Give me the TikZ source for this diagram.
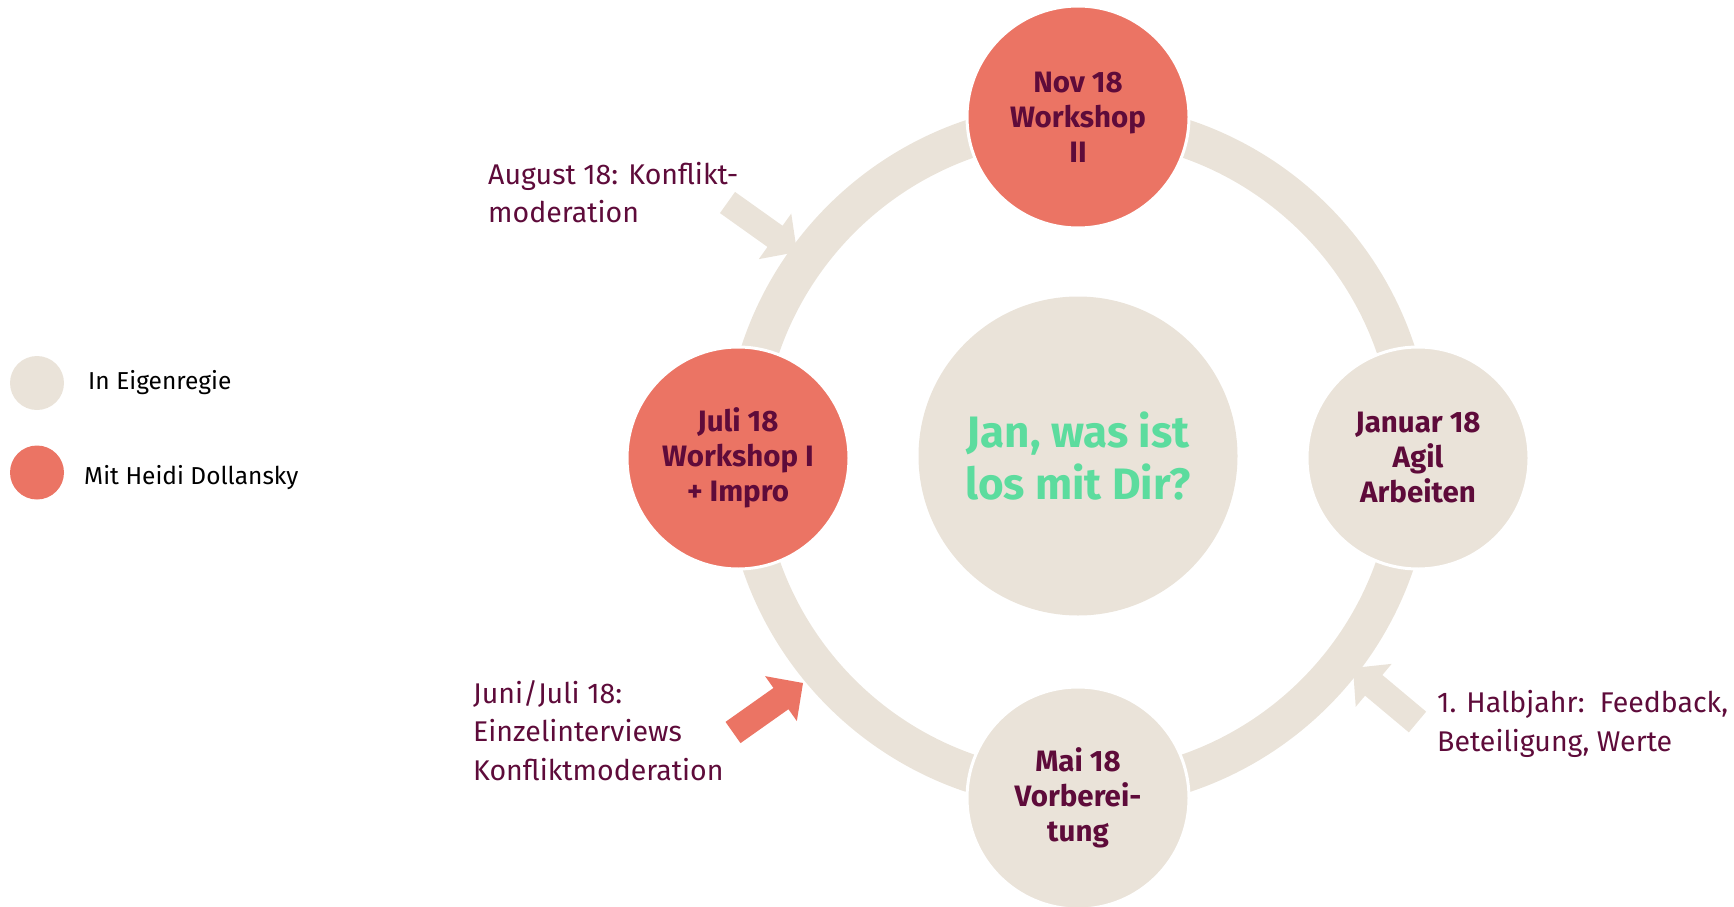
\documentclass[tikz,border=0pt]{standalone}
\usepackage{fontspec}
\setmainfont{Fira Sans}
\usetikzlibrary{calc}
\definecolor{beige}{HTML}{EAE3D9}
\definecolor{coral}{HTML}{EB7464}
\definecolor{plum}{HTML}{5E0B3A}
\definecolor{mint}{HTML}{5CDC9E}
\tikzset{
  stepnode/.style={circle, minimum size=222pt, inner sep=0pt, draw=white, line width=3pt,
    align=center, text=plum, font=\fontsize{29.5}{35}\selectfont\bfseries},
  ownnode/.style={stepnode, fill=beige},
  hdnode/.style={stepnode, fill=coral},
  note/.style={anchor=base west, align=left, text=plum, inner sep=0pt,
    font=\fontsize{28.5}{38.5}\selectfont},
  legendtxt/.style={anchor=base west, inner sep=0pt, text=black, font=\fontsize{24.5}{30}\selectfont},
  legenddot/.style={circle, minimum size=54pt, inner sep=0pt},
}
\newcommand\blockarr[5]{%
  \path ($(#2)!27pt!(#1)$) coordinate (hb);
  \fill[#3] ($(#1)!#4!90:(#2)$) -- ($(hb)!#4!90:(#2)$) -- ($(hb)!#5!90:(#2)$) -- (#2)
    -- ($(hb)!#5!-90:(#2)$) -- ($(hb)!#4!-90:(#2)$) -- ($(#1)!#4!-90:(#2)$) -- cycle;
}
\begin{document}
\begin{tikzpicture}[x=1pt,y=-1pt]
\useasboundingbox (0,0) rectangle (1734,907);
\coordinate (C) at (1078,456);
\draw[beige, line width=38pt] (C) circle[radius=335pt];
% arrows
\coordinate (a1t) at (727.5,202.5); \coordinate (a1p) at (797,252);
\coordinate (a2t) at (1417.5,722); \coordinate (a2p) at (1353,668);
\coordinate (a3t) at (733,732.5); \coordinate (a3p) at (803,683);
\blockarr{a1t}{a1p}{beige}{13pt}{28pt}
\blockarr{a2t}{a2p}{beige}{13.5pt}{28pt}
\blockarr{a3t}{a3p}{coral}{13pt}{27.5pt}
% nodes
\node[stepnode, fill=beige, draw=none, minimum size=319pt, text=mint,
  font=\fontsize{44}{52}\selectfont\bfseries] (center) at (C) {Jan, was ist\\los mit Dir?};
\node[hdnode] (nov) at (1078,117) {Nov 18\\Workshop\\II};
\node[hdnode] (juli) at (738,458) {Juli 18\\Workshop I\\+ Impro};
\node[ownnode] (jan) at (1418,458) {Januar 18\\Agil\\Arbeiten};
\node[ownnode] (mai) at (1078,798) {Mai 18\\Vorberei-\\tung};
% notes (anchored at the baseline of their last line)
\node[note] (aug) at (488,222.7) {August 18: Konflikt-\\moderation};
\node[note] (juni) at (473,780) {Juni/Juli 18:\\Einzelinterviews\\Konfliktmoderation};
\node[note] (halb) at (1437,751) {1. Halbjahr:\ \ Feedback,\\Beteiligung, Werte};
% legend
\node[legenddot, fill=beige] (l1) at (37,383) {};
\node[legenddot, fill=coral] (l2) at (37,472.5) {};
\node[legendtxt] (l1t) at (88,389.3) {In Eigenregie};
\node[legendtxt] (l2t) at (84,484) {Mit Heidi Dollansky};
\end{tikzpicture}
\end{document}
